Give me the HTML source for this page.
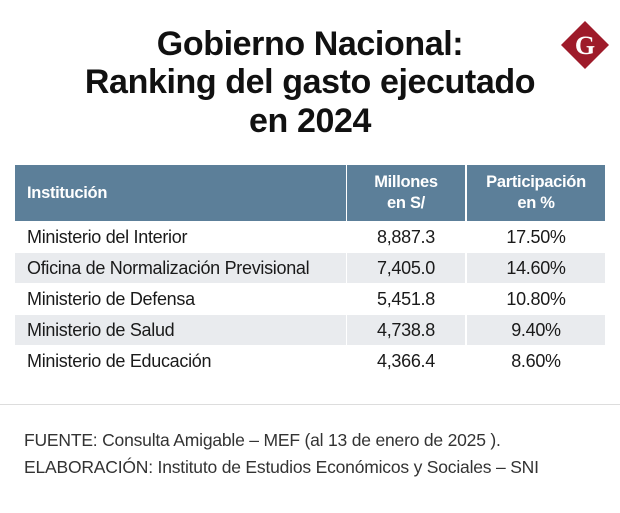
<!DOCTYPE html>
<html><head><meta charset="utf-8"><style>
body{margin:0;width:620px;height:513px;background:#fff;position:relative;overflow:hidden;font-family:"Liberation Sans",sans-serif;color:#1a1a1a}
.t{position:absolute;left:0;width:620px;text-align:center;font-weight:bold;font-size:34px;letter-spacing:-0.4px;color:#111}
.cell{position:absolute;display:flex;align-items:center;font-size:18px;letter-spacing:-0.3px}
.h{background:#5c7f99;color:#fff;font-weight:bold;font-size:16.5px;line-height:21px}
.g{background:#e9ebee}
.ft{position:absolute;left:24px;font-size:17.5px;color:#333;letter-spacing:-0.2px}
</style></head><body>
<div class="t" style="top:25px">Gobierno Nacional:</div>
<div class="t" style="top:63px">Ranking del gasto ejecutado</div>
<div class="t" style="top:102px">en 2024</div>
<svg style="position:absolute;left:560px;top:20px" width="50" height="50"><polygon points="25,1 49,25 25,49 1,25" fill="#9e1b2a"/><text x="25" y="34" text-anchor="middle" font-family="Liberation Serif,serif" font-weight="bold" font-size="26" fill="#fff">G</text></svg>
<div id="tbl"></div>
<div style="position:absolute;left:0;top:404px;width:620px;height:1px;background:#ddd"></div>
<div class="ft" style="top:430px">FUENTE: Consulta Amigable – MEF (al 13 de enero de 2025 ).</div>
<div class="ft" style="top:457px">ELABORACIÓN: Instituto de Estudios Económicos y Sociales – SNI</div>
<script>
const institutions=["Ministerio del Interior","Oficina de Normalización Previsional","Ministerio de Defensa","Ministerio de Salud","Ministerio de Educación"];
const millones=["8,887.3","7,405.0","5,451.8","4,738.8","4,366.4"];
const participacion=["17.50%","14.60%","10.80%","9.40%","8.60%"];
const tbl=document.getElementById('tbl');
const cols=[[15,331],[347,118],[467,138]];
function cell(x,y,w,h,txt,cls,center,name){
 const d=document.createElement('div');
 d.className='cell '+cls;
 d.style.cssText=`left:${x}px;top:${y}px;width:${w}px;height:${h}px;justify-content:${center?'center':'flex-start'};${center?'text-align:center;':'padding-left:12px;box-sizing:border-box;'}`;
 d.innerHTML=txt;
 
 
 tbl.appendChild(d);
}
cell(cols[0][0],165,cols[0][1],56,'Institución','h',false,'header-institucion');
cell(cols[1][0],165,cols[1][1],56,'Millones<br>en S/','h',true,'header-millones');
cell(cols[2][0],165,cols[2][1],56,'Participación<br>en %','h',true,'header-participacion');
institutions.forEach((n,i)=>{
 const y=222+i*31;const c=i%2?'g':'';
 cell(cols[0][0],y,cols[0][1],30,n,c,false,'row-institution');
 cell(cols[1][0],y,cols[1][1],30,millones[i],c,true,'row-millones');
 cell(cols[2][0],y,cols[2][1],30,participacion[i],c,true,'row-participacion');
});
</script>
</body></html>
